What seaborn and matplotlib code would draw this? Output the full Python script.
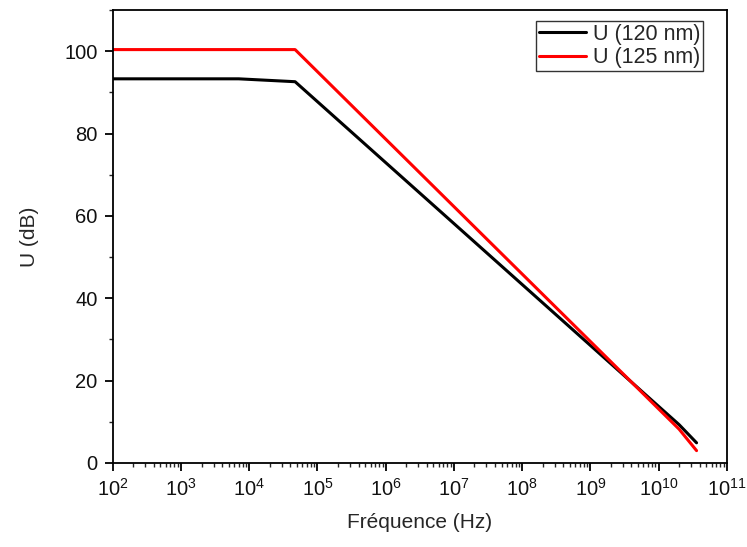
import matplotlib
matplotlib.use("Agg")
import matplotlib.pyplot as plt
import seaborn as sns
import pandas as pd
import numpy as np
from matplotlib.ticker import LogLocator, MultipleLocator, NullFormatter

sns.set_theme(style="ticks")
plt.rcParams['font.family'] = ['Liberation Sans', 'DejaVu Sans']

freq_120 = [1e2, 7e3, 4.7e4, 2.0e10, 3.6e10]
u_120 = [93.3, 93.3, 92.6, 9.3, 4.9]
freq_125 = [1e2, 4.7e4, 2.0e10, 3.6e10]
u_125 = [100.4, 100.4, 8.2, 3.0]
labels = ["U (120 nm)", "U (125 nm)"]
colors = ["#000000", "#ff0000"]

df = pd.concat([
    pd.DataFrame({"f": freq_120, "U": u_120, "s": labels[0]}),
    pd.DataFrame({"f": freq_125, "U": u_125, "s": labels[1]}),
])

fig = plt.figure(figsize=(7.47, 5.47), dpi=100)
ax = fig.add_axes([0.151, 0.1536, 0.822, 0.828])
sns.lineplot(data=df, x="f", y="U", hue="s", palette=colors, sort=False,
             estimator=None, linewidth=2.2, ax=ax)
ax.set_xscale("log")
ax.set_xlim(1e2, 1e11)
ax.set_ylim(0, 110)
ax.xaxis.set_major_locator(LogLocator(base=10, numticks=20))
ax.xaxis.set_minor_locator(LogLocator(base=10, subs=np.arange(2, 10), numticks=20))
ax.xaxis.set_minor_formatter(NullFormatter())
ax.yaxis.set_major_locator(MultipleLocator(20))
ax.yaxis.set_minor_locator(MultipleLocator(10))
for s in ax.spines.values():
    s.set_linewidth(1.3)
    s.set_color("black")
ax.tick_params(axis="both", which="major", direction="out", length=6, width=1.3,
               labelsize=14.5, colors="black", labelcolor="#111111", pad=5)
ax.tick_params(axis="both", which="minor", direction="out", length=3, width=1.0)
ax.set_xlabel("Fréquence (Hz)", fontsize=15, labelpad=9)
ax.set_ylabel("U (dB)", fontsize=15, labelpad=18)
leg = ax.legend(loc="upper right", bbox_to_anchor=(0.961, 0.976), fontsize=15.5,
                frameon=True, fancybox=False, edgecolor="black", handlelength=2.2,
                borderpad=0.12, labelspacing=0.12, handletextpad=0.3, borderaxespad=0.0)
leg.get_frame().set_linewidth(1.0)
fig.savefig("out.png", dpi=100)
